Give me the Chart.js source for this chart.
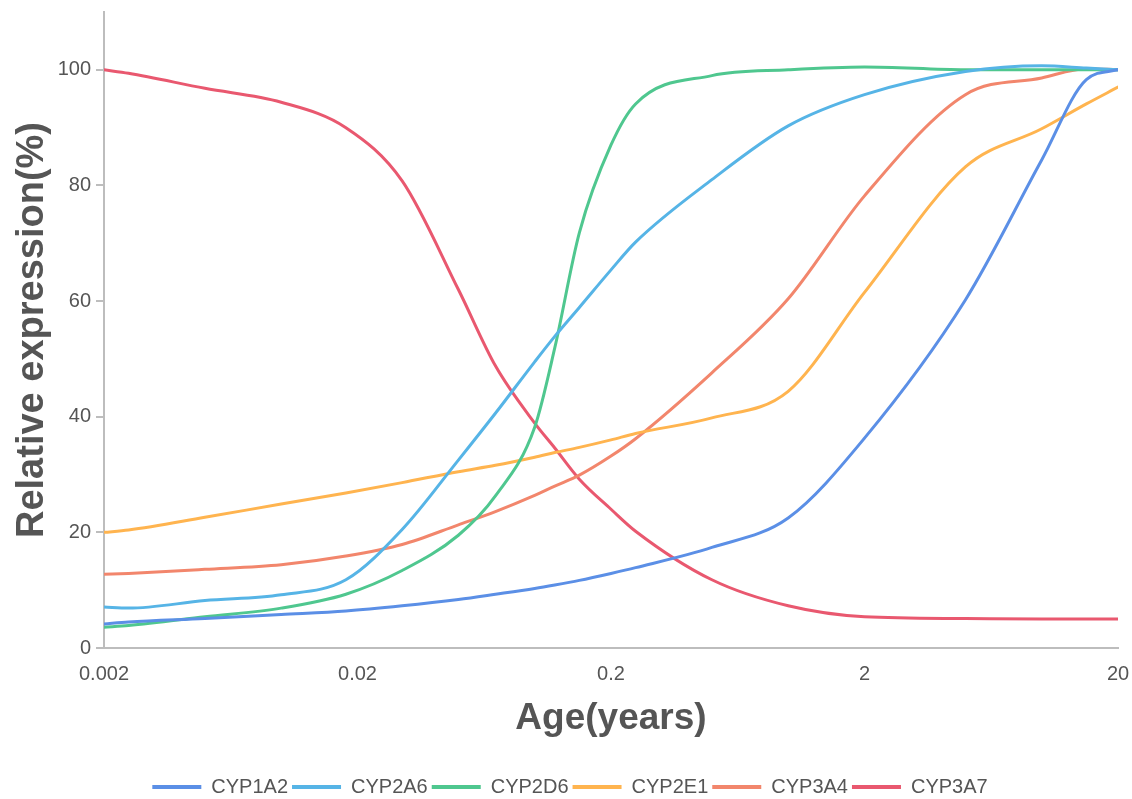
<!DOCTYPE html>
<html>
<head>
<meta charset="utf-8">
<script src="https://cdn.jsdelivr.net/npm/chart.js@4.4.1/dist/chart.umd.min.js"></script>
<style>
  html, body { margin: 0; padding: 0; background: #fff; }
  #wrap { width: 1132px; height: 799px; }
</style>
</head>
<body>
<div id="wrap"><canvas id="chart" width="1132" height="799"></canvas></div>
<script>
// ===== DATA =====
const AGES = [0.002, 0.0025, 0.005, 0.01, 0.018, 0.03, 0.05, 0.07, 0.1, 0.12, 0.15, 0.2, 0.25, 0.5, 1, 2, 5, 10, 15, 20];

const CYP1A2 = [4.15, 4.5, 5.1, 5.8, 6.4, 7.3, 8.4, 9.3, 10.3, 10.9, 11.7, 12.9, 13.9, 17.4, 22.5, 36.3, 60.2, 84.4, 98.3, 100];
const CYP2A6 = [7.1, 6.9, 8.2, 9.2, 11.8, 20.5, 32.5, 40.6, 49.5, 53.9, 58.9, 65.4, 70.2, 81, 90.3, 95.7, 99.7, 100.7, 100.3, 100];
const CYP2D6 = [3.6, 3.9, 5.4, 6.9, 9.3, 13.4, 19.5, 26.3, 38.2, 51.9, 71.8, 87, 94.1, 99, 100, 100.5, 100, 100, 100, 100];
const CYP2E1 = [20, 20.4, 22.6, 24.9, 26.8, 28.6, 30.5, 31.6, 33.0, 33.8, 34.7, 36.0, 37.1, 39.8, 44.4, 61.5, 83.2, 89.8, 94.1, 97];
const CYP3A4 = [12.75, 12.9, 13.6, 14.4, 15.9, 17.9, 21.3, 23.6, 26.4, 28.0, 29.9, 33.2, 36.2, 47.6, 60.4, 78.2, 95.7, 98.6, 100.2, 100];
const CYP3A7 = [100, 99.4, 96.8, 94.4, 90, 80.8, 62, 48.8, 38.9, 34.6, 29.2, 24, 20.2, 11.8, 7.3, 5.4, 5.1, 5, 5, 5];

const SERIES_NAMES  = ["CYP1A2", "CYP2A6", "CYP2D6", "CYP2E1", "CYP3A4", "CYP3A7"];
const SERIES_VALUES = [CYP1A2, CYP2A6, CYP2D6, CYP2E1, CYP3A4, CYP3A7];
const SERIES_COLORS = ["#5b8fe6", "#56b4e6", "#4fc78f", "#ffb44f", "#f2866c", "#e9586f"];

const X_TICKS = [0.002, 0.02, 0.2, 2, 20];
const Y_TICKS = [0, 20, 40, 60, 80, 100];

const AXIS_GREY = "#bdbdbd";
const TEXT_GREY = "#555555";

Chart.defaults.font.family = "'Liberation Sans', Arial, sans-serif";

// nudge the legend to where the reference has it
const legendShift = {
  id: "legendShift",
  afterLayout(chart) {
    const lg = chart.legend;
    lg.top += 8;
    lg.bottom += 8;
    lg.left += 11;
    lg.right += 11;
  }
};

const datasets = SERIES_NAMES.map((name, i) => ({
  label: name,
  data: AGES.map((age, j) => ({ x: age, y: SERIES_VALUES[i][j] })),
  borderColor: SERIES_COLORS[i],
  backgroundColor: SERIES_COLORS[i],
  borderWidth: 3,
  borderCapStyle: "round",
  pointRadius: 0,
  pointHoverRadius: 0,
  cubicInterpolationMode: "monotone",
  fill: false
}));

new Chart(document.getElementById("chart"), {
  type: "line",
  data: { datasets },
  plugins: [legendShift],
  options: {
    responsive: false,
    animation: false,
    devicePixelRatio: 1,
    layout: { padding: { top: 12, right: 14, left: 0, bottom: 0 } },
    plugins: {
      tooltip: { enabled: false },
      legend: {
        position: "bottom",
        align: "center",
        labels: {
          usePointStyle: true,
          pointStyle: "line",
          pointStyleWidth: 49,
          padding: 4,
          color: TEXT_GREY,
          font: { size: 20 },
          generateLabels: chart =>
            Chart.defaults.plugins.legend.labels.generateLabels(chart)
              .map(l => ({ ...l, lineWidth: 4 }))
        }
      }
    },
    scales: {
      x: {
        type: "logarithmic",
        min: 0.002,
        max: 20,
        afterBuildTicks: s => { s.ticks = X_TICKS.map(v => ({ value: v })); },
        afterFit: s => {
          s.height = 117;
          s.paddingLeft = 0;
          s.paddingRight = 0;
        },
        grid: { display: false, drawTicks: false },
        border: { display: true, color: AXIS_GREY, width: 2 },
        ticks: {
          autoSkip: false,
          maxRotation: 0,
          padding: 14,
          color: TEXT_GREY,
          font: { size: 20 },
          callback: v => String(v)
        },
        title: {
          display: true,
          text: "Age(years)",
          color: TEXT_GREY,
          font: { size: 37, weight: "bold" },
          padding: { top: 0, bottom: 24 }
        }
      },
      y: {
        min: 0,
        max: 110,
        afterBuildTicks: s => { s.ticks = Y_TICKS.map(v => ({ value: v })); },
        afterFit: s => {
          s.width = 104;
          s.paddingTop = 0;
          s.paddingBottom = 0;
        },
        grid: {
          display: true,
          drawOnChartArea: false,
          drawTicks: true,
          tickLength: 8,
          color: AXIS_GREY,
          lineWidth: 2
        },
        border: { display: true, color: AXIS_GREY, width: 2 },
        ticks: {
          padding: 5,
          color: TEXT_GREY,
          font: { size: 20 }
        },
        title: {
          display: true,
          text: "Relative expression(%)",
          color: TEXT_GREY,
          font: { size: 38, weight: "bold" },
          padding: { top: 10, bottom: 0 }
        }
      }
    }
  }
});
</script>
</body>
</html>
